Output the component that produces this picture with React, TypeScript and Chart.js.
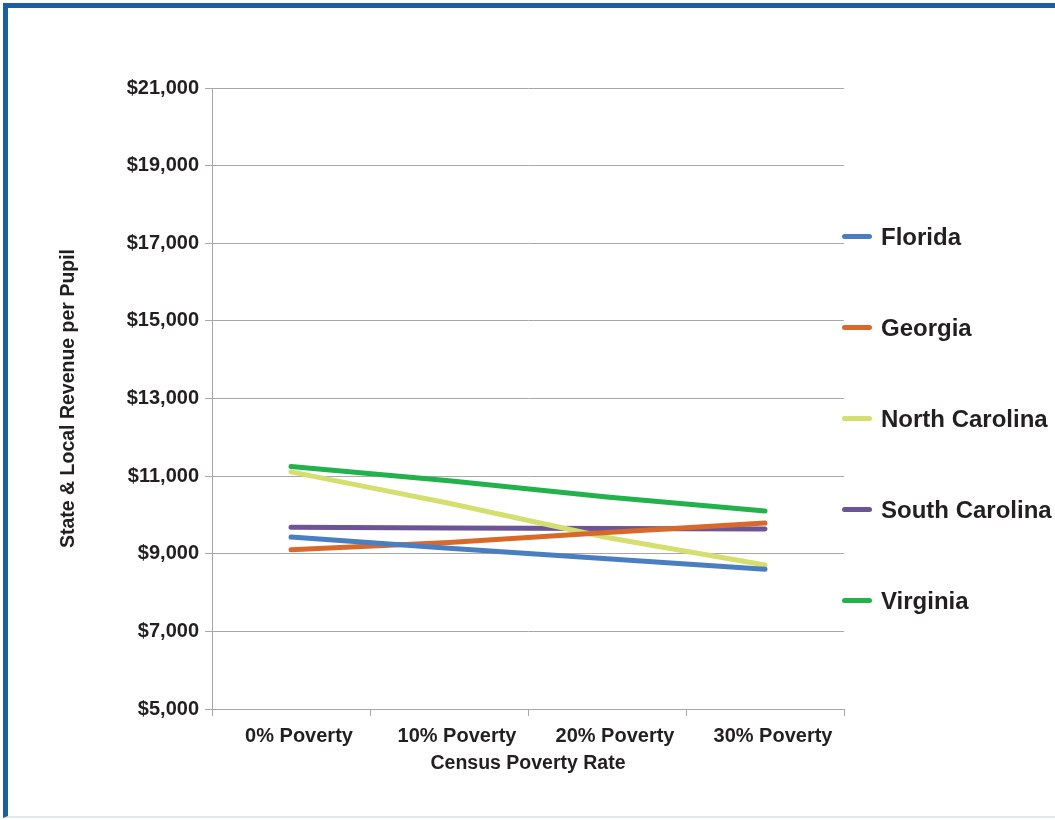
import React, { useEffect, useRef } from "react";
import { Chart, registerables } from "chart.js";

Chart.register(...registerables);

// ---- Data ----
const categories = ["0% Poverty", "10% Poverty", "20% Poverty", "30% Poverty"];
const seriesNames = ["Florida", "Georgia", "North Carolina", "South Carolina", "Virginia"];
const florida = [9430, 9140, 8870, 8600];
const georgia = [9100, 9290, 9550, 9790];
const northCarolina = [11110, 10300, 9420, 8710];
const southCarolina = [9680, 9665, 9650, 9640];
const virginia = [11250, 10880, 10460, 10100];
const yTickValues = [5000, 7000, 9000, 11000, 13000, 15000, 17000, 19000, 21000];
const yAxisTitle = "State & Local Revenue per Pupil";
const xAxisTitle = "Census Poverty Rate";

// ---- Styles ----
const seriesColors = ["#4a7ec2", "#d9692b", "#d4df70", "#6c5596", "#22b24c"];
const textColor = "#231f20";
const gridColor = "#a8a8a8";
const fontFamily = "'Liberation Sans', Arial, Helvetica, sans-serif";

export default function App() {
  const canvasRef = useRef<HTMLCanvasElement>(null);

  useEffect(() => {
    const canvas = canvasRef.current;
    if (!canvas) return;
    const seriesValues = [florida, georgia, northCarolina, southCarolina, virginia];
    const tickFont = { family: fontFamily, size: 20, weight: "bold" as const };
    const titleFont = { family: fontFamily, size: 19.5, weight: "bold" as const };

    const chart = new Chart(canvas, {
      type: "line",
      data: {
        labels: categories,
        datasets: seriesNames.map((name, i) => ({
          label: name,
          data: seriesValues[i],
          borderColor: seriesColors[i],
          backgroundColor: seriesColors[i],
          borderWidth: 5,
          borderCapStyle: "round" as const,
          borderJoinStyle: "round" as const,
          pointRadius: 0,
          pointHoverRadius: 0,
          tension: 0,
          fill: false,
        })),
      },
      options: {
        responsive: false,
        animation: false,
        events: [],
        layout: { padding: { left: 50, right: 211, top: 88, bottom: 45 } },
        plugins: {
          legend: { display: false },
          tooltip: { enabled: false },
        },
        scales: {
          x: {
            type: "category",
            offset: true,
            grid: {
              offset: true,
              drawOnChartArea: false,
              drawTicks: true,
              tickLength: 7,
              color: gridColor,
              lineWidth: 1,
            },
            border: { color: gridColor, width: 1 },
            ticks: {
              font: tickFont,
              color: textColor,
              padding: 8,
              labelOffset: 8,
              maxRotation: 0,
              autoSkip: false,
            },
            title: {
              display: true,
              text: xAxisTitle,
              font: titleFont,
              color: textColor,
              padding: { top: 4, bottom: 0 },
            },
            afterFit: (scale: any) => {
              scale.height = 66;
            },
          },
          y: {
            type: "linear",
            min: yTickValues[0],
            max: yTickValues[yTickValues.length - 1],
            afterBuildTicks: (scale: any) => {
              scale.ticks = yTickValues.map((v) => ({ value: v }));
            },
            ticks: {
              font: tickFont,
              color: textColor,
              padding: 6,
              callback: (v: any) => "$" + Number(v).toLocaleString("en-US"),
            },
            grid: {
              color: gridColor,
              lineWidth: 1,
              tickLength: 7,
            },
            border: { color: gridColor, width: 1 },
            title: {
              display: true,
              text: yAxisTitle,
              font: titleFont,
              color: textColor,
              padding: { top: 7, bottom: 0 },
            },
            afterFit: (scale: any) => {
              scale.width = 162;
            },
          },
        },
      },
    });
    return () => chart.destroy();
  }, []);

  return (
    <div
      style={{
        position: "fixed",
        left: 0,
        top: 0,
        width: 1055,
        height: 820,
        background: "#ffffff",
        overflow: "hidden",
      }}
    >
      <div
        style={{
          position: "absolute",
          left: 3,
          top: 3,
          width: 1060,
          height: 815,
          borderTop: "5px solid #1a5da3",
          borderLeft: "5px solid #1a5da3",
          borderBottom: "2px solid #e3e8ee",
          boxSizing: "border-box",
        }}
      />
      <canvas
        ref={canvasRef}
        width={1055}
        height={820}
        style={{ position: "absolute", left: 0, top: 0, width: 1055, height: 820, display: "block" }}
      />
      <div
        style={{
          position: "absolute",
          left: 842,
          top: 191,
          fontFamily,
          fontWeight: "bold",
          fontSize: 24,
          color: textColor,
        }}
      >
        {seriesNames.map((name, i) => (
          <div
            key={name}
            style={{ height: 91, display: "flex", alignItems: "center", whiteSpace: "nowrap" }}
          >
            <span
              style={{
                display: "inline-block",
                width: 30,
                height: 5,
                borderRadius: 3,
                background: seriesColors[i],
                marginRight: 9,
              }}
            />
            <span>{name}</span>
          </div>
        ))}
      </div>
    </div>
  );
}
